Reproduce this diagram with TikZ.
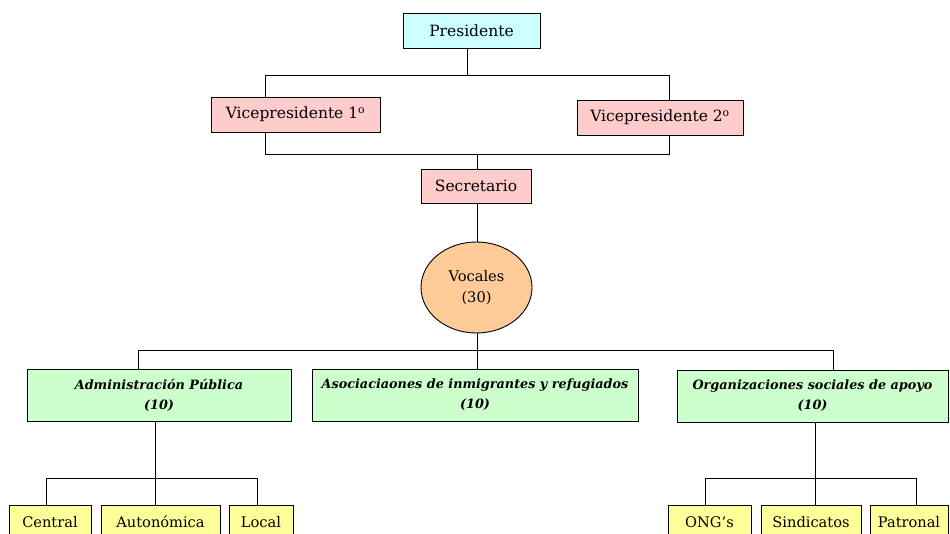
\documentclass[tikz,border=0pt]{standalone}
\usepackage{fontspec}
\setmainfont{DejaVu Serif}
\usepackage{tikz}
\usetikzlibrary{shapes, positioning, calc}
\definecolor{presblue}{HTML}{CCFFFF}
\definecolor{vicered}{HTML}{FFCCCC}
\definecolor{vocorange}{HTML}{FFCC99}
\definecolor{grpgreen}{HTML}{CCFFCC}
\definecolor{subyellow}{HTML}{FFFF99}
\tikzset{
    cargo/.style n args={4}{draw=black, line width=0.9pt, fill=#1, rectangle,
        minimum width=#2, minimum height=#3, inner sep=0pt, align=center,
        font=\fontsize{#4}{18}\selectfont},
    grupo/.style args={#1 #2}{draw=black, line width=0.9pt, fill=grpgreen, rectangle,
        minimum width=#1, minimum height=#2, inner sep=0pt, align=center,
        font=\fontsize{12.8}{20}\selectfont\bfseries\itshape},
    sector/.style={draw=black, line width=0.9pt, fill=subyellow, rectangle,
        minimum width=#1, minimum height=34, inner sep=0pt,
        font=\fontsize{14.6}{17}\selectfont},
    sector/.default=80,
    enlace/.style={draw=black, line width=1pt}
}
\begin{document}
\begin{tikzpicture}[x=1pt, y=-1pt]
    \useasboundingbox (0,0) rectangle (950,534);
    \clip (0,0) rectangle (950,534);
    % cargos
    \node[cargo={presblue}{137}{35}{15.5}] (pres) at (471.5,30.5) {Presidente};
    \node[cargo={vicered}{169}{35}{15.5}] (vp1) at (295.5,114.5) {Vicepresidente 1\textsuperscript{o}};
    \node[cargo={vicered}{166}{35}{15.5}] (vp2) at (660,117.5) {Vicepresidente 2\textsuperscript{o}};
    \node[cargo={vicered}{110}{34}{15.5}] (sec) at (476,186) {Secretario};
    \node[draw=black, line width=0.9pt, fill=vocorange, ellipse, minimum width=111, minimum height=91,
        inner sep=0pt, align=center, font=\fontsize{14.6}{21}\selectfont] (voc) at (476.5,287.5) {Vocales\\(30)};
    % grupos
    \node[grupo={264 52}] (adm) at (159,395) {Administraci\'on P\'ublica\\(10)};
    \node[grupo={326 52}] (asoc) at (475,395) {Asociaciaones de inmigrantes y refugiados\\(10)};
    \node[grupo={271 52}] (org) at (812.5,396) {Organizaciones sociales de apoyo\\(10)};
    % sectores
    \node[sector=82] (cen) at (50,522) {Central};
    \node[sector=119] (aut) at (160.5,522) {Auton\'omica};
    \node[sector=64] (loc) at (261,522) {Local};
    \node[sector=83] (ong) at (709.5,522) {ONG's};
    \node[sector=100] (sin) at (811,522) {Sindicatos};
    \node[sector=78] (pat) at (909,522) {Patronal};
    % puntos de union
    \coordinate (t0) at (467,76);
    \coordinate (tl) at (265,76);
    \coordinate (tr) at (669,76);
    \coordinate (m0) at (477,155);
    \coordinate (ml) at (265,155);
    \coordinate (mr) at (669,155);
    \coordinate (v0) at (477,351);
    \coordinate (vl) at (138,351);
    \coordinate (vr) at (833,351);
    \coordinate (a0) at (155,478);
    \coordinate (al) at (46,478);
    \coordinate (ar) at (257,478);
    \coordinate (o0) at (815,478);
    \coordinate (ol) at (705,478);
    \coordinate (or) at (916,478);
    % conexiones
    \draw[enlace] (pres.south -| t0) -- (t0);
    \draw[enlace] (vp1.north -| tl) -- (tl) -- (tr) -- (vp2.north -| tr);
    \draw[enlace] (vp1.south -| ml) -- (ml) -- (mr) -- (vp2.south -| mr);
    \draw[enlace] (m0) -- (sec.north -| m0);
    \draw[enlace] (sec.south -| m0) -- (voc.north -| m0);
    \draw[enlace] (voc.south -| v0) -- (v0);
    \draw[enlace] (adm.north -| vl) -- (vl) -- (vr) -- (org.north -| vr);
    \draw[enlace] (v0) -- (asoc.north -| v0);
    \draw[enlace] (adm.south -| a0) -- (a0);
    \draw[enlace] (cen.north -| al) -- (al) -- (ar) -- (loc.north -| ar);
    \draw[enlace] (a0) -- (aut.north -| a0);
    \draw[enlace] (org.south -| o0) -- (o0);
    \draw[enlace] (ong.north -| ol) -- (ol) -- (or) -- (pat.north -| or);
    \draw[enlace] (o0) -- (sin.north -| o0);
\end{tikzpicture}
\end{document}
